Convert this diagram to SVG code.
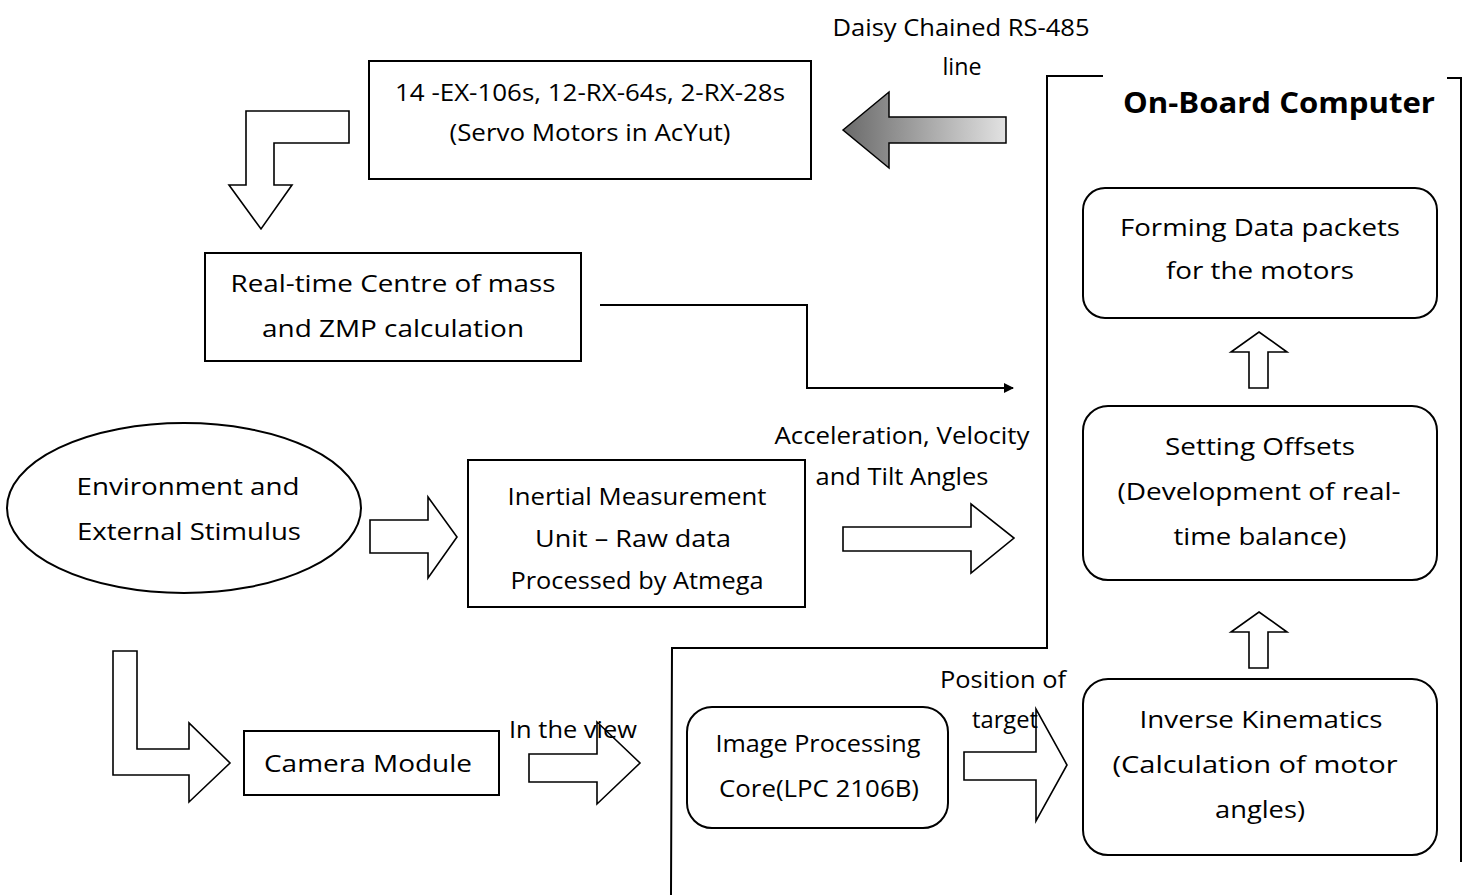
<svg xmlns="http://www.w3.org/2000/svg" width="1473" height="895" viewBox="0 0 1473 895">
<defs>
<linearGradient id="g1" x1="0" y1="0" x2="1" y2="0">
<stop offset="0" stop-color="#6a6a6a"/>
<stop offset="0.4" stop-color="#9a9a9a"/>
<stop offset="1" stop-color="#e2e2e2"/>
</linearGradient>
<marker id="ah" markerWidth="10" markerHeight="10" refX="9" refY="5" orient="auto" markerUnits="userSpaceOnUse" viewBox="0 0 10 10">
<path d="M0,0 L10,5 L0,10 z" fill="#000"/>
</marker>
<style>
.box{fill:#fff;stroke:#000;stroke-width:2}
.ln{fill:none;stroke:#000;stroke-width:2}
.ha{fill:#fff;stroke:#000;stroke-width:1.6;stroke-linejoin:miter}
.t{font-family:"Open Sans","Liberation Sans",sans-serif;font-size:24px;fill:#000;text-anchor:middle}
.b{font-weight:bold;font-size:28px}
</style>
</defs>
<rect width="1473" height="895" fill="#fff"/>

<g id="connectors">
<polygon points="843,130 889,92 889,117 1006,117 1006,143 889,143 889,168" fill="url(#g1)" stroke="#000" stroke-width="1.5"/>
<polygon class="ha" points="349,111 246,111 246,185 229,185 261,229 292,185 274,185 274,143 349,143"/>
<polyline class="ln" points="600,305 807,305 807,388 1013,388" marker-end="url(#ah)"/>
<polygon class="ha" points="370,520 428,520 428,497 457,537 428,578 428,553 370,553"/>
<polygon class="ha" points="843,527 971,527 971,504 1014,538 971,573 971,551 843,551"/>
<polygon class="ha" points="113,651 137,651 137,749 189,749 189,723 230,763 189,802 189,775 113,775"/>
<polygon class="ha" points="529,754 597,754 597,722 640,763 597,804 597,782 529,782"/>
<polygon class="ha" points="964,752 1036,752 1036,709 1067,765 1036,821 1036,780 964,780"/>
<polygon class="ha" points="1259,332 1287,352 1268,352 1268,388 1249,388 1249,352 1231,352"/>
<polygon class="ha" points="1259,612 1287,632 1268,632 1268,668 1249,668 1249,632 1231,632"/>
</g>

<g id="frame">
<polyline class="ln" points="1103,76 1047,76 1047,648 672,648 671,895"/>
<polyline class="ln" points="1447,78 1461,78 1461,862"/>
<text class="t b" x="1279" y="113" textLength="312" lengthAdjust="spacingAndGlyphs">On-Board Computer</text>
</g>

<g id="label-daisy">
<text class="t" x="961" y="36" font-size="22" textLength="257" lengthAdjust="spacingAndGlyphs">Daisy Chained RS-485</text>
<text class="t" x="962" y="75" font-size="22" textLength="39" lengthAdjust="spacingAndGlyphs">line</text>
</g>

<g id="servo">
<rect class="box" x="369" y="61" width="442" height="118"/>
<text class="t" x="590" y="101" textLength="390" lengthAdjust="spacingAndGlyphs">14 -EX-106s, 12-RX-64s, 2-RX-28s</text>
<text class="t" x="590" y="141" textLength="281" lengthAdjust="spacingAndGlyphs">(Servo Motors in AcYut)</text>
</g>

<g id="com">
<rect class="box" x="205" y="253" width="376" height="108"/>
<text class="t" x="393" y="292" font-size="26" textLength="325" lengthAdjust="spacingAndGlyphs">Real-time Centre of mass</text>
<text class="t" x="393" y="337" font-size="26" textLength="262" lengthAdjust="spacingAndGlyphs">and ZMP calculation</text>
</g>

<g id="forming">
<rect class="box" x="1083" y="188" width="354" height="130" rx="22"/>
<text class="t" x="1260" y="236" font-size="26" textLength="280" lengthAdjust="spacingAndGlyphs">Forming Data packets</text>
<text class="t" x="1260" y="279" font-size="26" textLength="188" lengthAdjust="spacingAndGlyphs">for the motors</text>
</g>

<g id="offsets">
<rect class="box" x="1083" y="406" width="354" height="174" rx="25"/>
<text class="t" x="1260" y="455" font-size="26" textLength="190" lengthAdjust="spacingAndGlyphs">Setting Offsets</text>
<text class="t" x="1259" y="500" font-size="26" textLength="283" lengthAdjust="spacingAndGlyphs">(Development of real-</text>
<text class="t" x="1260" y="545" font-size="26" textLength="173" lengthAdjust="spacingAndGlyphs">time balance)</text>
</g>

<g id="ik">
<rect class="box" x="1083" y="679" width="354" height="176" rx="25"/>
<text class="t" x="1261" y="728" font-size="26" textLength="243" lengthAdjust="spacingAndGlyphs">Inverse Kinematics</text>
<text class="t" x="1255" y="773" font-size="26" textLength="285" lengthAdjust="spacingAndGlyphs">(Calculation of motor</text>
<text class="t" x="1260" y="818" font-size="26" textLength="90" lengthAdjust="spacingAndGlyphs">angles)</text>
</g>

<g id="env">
<ellipse class="box" cx="184" cy="508" rx="177" ry="85"/>
<text class="t" x="188" y="495" font-size="27" textLength="223" lengthAdjust="spacingAndGlyphs">Environment and</text>
<text class="t" x="189" y="540" font-size="27" textLength="224" lengthAdjust="spacingAndGlyphs">External Stimulus</text>
</g>

<g id="imu">
<rect class="box" x="468" y="460" width="337" height="147"/>
<text class="t" x="637" y="505" textLength="259" lengthAdjust="spacingAndGlyphs">Inertial Measurement</text>
<text class="t" x="633" y="547" textLength="196" lengthAdjust="spacingAndGlyphs">Unit – Raw data</text>
<text class="t" x="637" y="589" textLength="253" lengthAdjust="spacingAndGlyphs">Processed by Atmega</text>
</g>

<g id="label-accel">
<text class="t" x="902" y="444" font-size="23" textLength="255" lengthAdjust="spacingAndGlyphs">Acceleration, Velocity</text>
<text class="t" x="902" y="485" font-size="23" textLength="173" lengthAdjust="spacingAndGlyphs">and Tilt Angles</text>
</g>

<g id="camera">
<rect class="box" x="244" y="731" width="255" height="64"/>
<text class="t" x="368" y="772" font-size="26" textLength="208" lengthAdjust="spacingAndGlyphs">Camera Module</text>
</g>

<g id="label-view">
<text class="t" x="573" y="738" textLength="128" lengthAdjust="spacingAndGlyphs">In the view</text>
</g>

<g id="imgproc">
<rect class="box" x="687" y="707" width="261" height="121" rx="25"/>
<text class="t" x="818" y="752" textLength="205" lengthAdjust="spacingAndGlyphs">Image Processing</text>
<text class="t" x="819" y="797" textLength="200" lengthAdjust="spacingAndGlyphs">Core(LPC 2106B)</text>
</g>

<g id="label-pos">
<text class="t" x="1003" y="688" textLength="126" lengthAdjust="spacingAndGlyphs">Position of</text>
<text class="t" x="1005" y="728" textLength="66" lengthAdjust="spacingAndGlyphs">target</text>
</g>
</svg>
